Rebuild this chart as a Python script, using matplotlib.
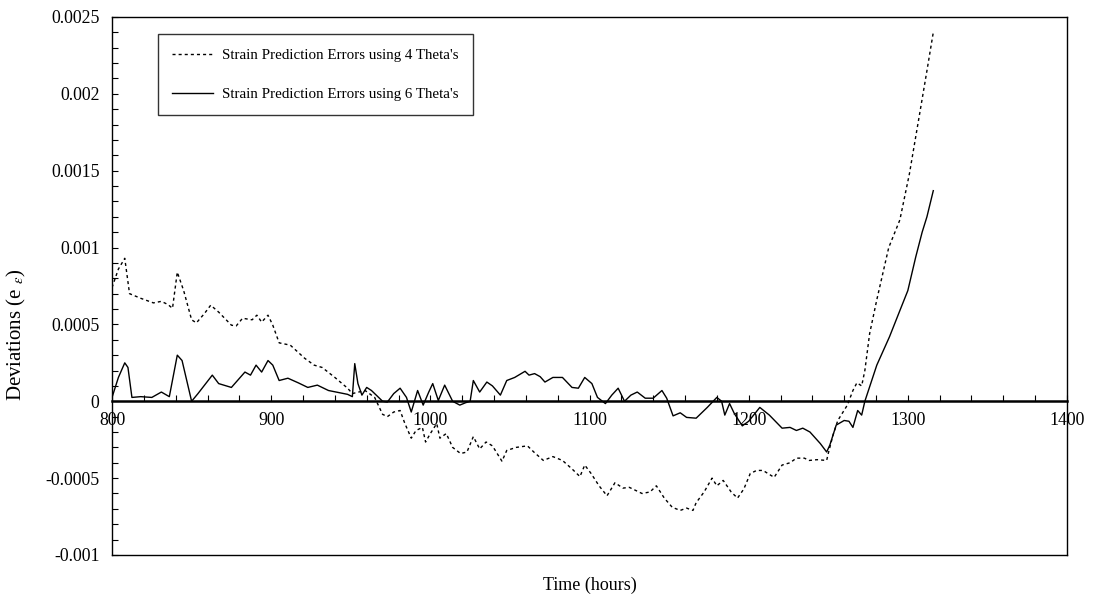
import matplotlib
matplotlib.use("Agg")
import matplotlib.pyplot as plt
from matplotlib.ticker import MultipleLocator, FuncFormatter

plt.rcParams['font.family'] = ['Liberation Serif', 'DejaVu Serif']
plt.rcParams['mathtext.fontset'] = 'stix'

# ---- data (time in hours, deviation in strain) ----
t4 = [800, 804, 808, 811, 818, 826, 831, 835, 838, 841, 845, 850, 853, 858, 862,
      867, 875, 878, 882, 888, 891, 894, 898, 901, 905, 912, 921, 927, 932, 940,
      948, 951, 959, 965, 970, 973, 977, 981, 984, 988, 991, 995, 997, 1000, 1004,
      1006, 1010, 1014, 1019, 1023, 1027, 1031, 1035, 1039, 1045, 1048, 1054, 1061,
      1065, 1071, 1077, 1083, 1089, 1094, 1097, 1101, 1106, 1111, 1116, 1121, 1125,
      1133, 1138, 1142, 1147, 1152, 1157, 1161, 1165, 1167, 1172, 1177, 1180, 1184,
      1189, 1193, 1197, 1201, 1205, 1209, 1216, 1221, 1226, 1230, 1235, 1238, 1243,
      1249, 1250, 1253, 1256, 1262, 1265.5, 1268, 1271, 1273, 1276, 1280.5, 1288,
      1295, 1301, 1307.5, 1312, 1316]
e4 = [7.4, 8.6, 9.3, 7.0, 6.7, 6.4, 6.5, 6.3, 6.05, 8.4, 7.2, 5.3, 5.1, 5.7, 6.25,
      5.8, 4.95, 4.9, 5.4, 5.3, 5.6, 5.15, 5.6, 4.95, 3.8, 3.65, 2.8, 2.35, 2.2, 1.55,
      0.85, 0.5, 0.7, 0.25, -0.85, -1.0, -0.7, -0.6, -1.45, -2.4, -1.9, -1.7, -2.65,
      -2.1, -1.45, -2.4, -2.1, -3.0, -3.4, -3.3, -2.3, -3.1, -2.65, -2.9, -3.9, -3.2,
      -3.0, -2.9, -3.3, -3.85, -3.6, -3.85, -4.4, -4.9, -4.15, -4.7, -5.5, -6.15, -5.3,
      -5.65, -5.6, -6.0, -5.9, -5.5, -6.3, -6.9, -7.1, -6.95, -7.1, -6.6, -5.9, -5.0,
      -5.5, -5.15, -5.9, -6.3, -5.7, -4.7, -4.5, -4.5, -4.95, -4.15, -4.0, -3.7, -3.7,
      -3.85, -3.8, -3.85, -3.4, -2.2, -1.25, -0.25, 0.7, 1.2, 1.0, 2.0, 4.4, 6.6, 10.0,
      11.8, 14.8, 18.75, 21.5, 24.0]

t6 = [800, 804, 808, 810, 812.5, 818, 825, 831, 836, 841, 844, 850, 854, 863, 867,
      875, 883.5, 887, 890.5, 894, 898, 901, 905, 910.5, 917, 923, 929, 936, 948, 951,
      952.5, 954.5, 957, 960, 963, 970, 973, 977, 981, 985, 988, 992, 995.5, 999,
      1001.5, 1005, 1009, 1014, 1018.5, 1022, 1025, 1027, 1031, 1035.5, 1039, 1044,
      1048, 1053, 1059.5, 1062, 1065.5, 1069, 1072, 1077, 1083, 1089, 1093, 1097,
      1101.5, 1105, 1110, 1114, 1118, 1122, 1126, 1130, 1135, 1140, 1145.5, 1148.5,
      1152.5, 1157, 1161, 1167, 1174, 1180, 1183, 1185, 1188, 1191, 1196, 1200, 1207,
      1213, 1221, 1226, 1230, 1234, 1238.5, 1245, 1249, 1251, 1255, 1260, 1263,
      1265.5, 1268.5, 1271, 1273, 1280.5, 1288.5, 1295, 1300, 1305, 1309, 1312, 1316]
e6 = [0.25, 1.55, 2.5, 2.2, 0.25, 0.3, 0.25, 0.6, 0.3, 3.0, 2.65, 0.0, 0.5, 1.7, 1.15,
      0.9, 1.9, 1.7, 2.35, 1.9, 2.65, 2.35, 1.35, 1.5, 1.2, 0.9, 1.05, 0.7, 0.45, 0.3,
      2.45, 1.15, 0.4, 0.9, 0.7, 0.0, -0.05, 0.5, 0.85, 0.25, -0.7, 0.7, -0.25, 0.6,
      1.15, 0.05, 1.05, 0.0, -0.25, -0.1, 0.0, 1.35, 0.6, 1.25, 1.0, 0.4,
      1.35, 1.55, 1.95, 1.7, 1.8, 1.6, 1.25, 1.55, 1.55, 0.9, 0.85, 1.55,
      1.15, 0.25, -0.15, 0.4, 0.85, 0.0, 0.4, 0.6, 0.2, 0.2, 0.7, 0.2,
      -0.95, -0.75, -1.05, -1.1, -0.4, 0.25, 0.0, -0.9, -0.15, -0.8, -1.6, -1.3, -0.4,
      -0.9, -1.75, -1.7, -1.9, -1.75, -2.0, -2.75, -3.3, -2.85, -1.55, -1.25, -1.3,
      -1.7, -0.6, -0.9, 0.0, 2.35, 4.2, 5.9, 7.2, 9.4, 11.0, 12.0, 13.7]

e4 = [v * 1e-4 for v in e4]
e6 = [v * 1e-4 for v in e6]

label4 = "Strain Prediction Errors using 4 Theta's"
label6 = "Strain Prediction Errors using 6 Theta's"
xlim = (800, 1400)
ylim = (-0.001, 0.0025)

fig = plt.figure(figsize=(10.93, 6.02), dpi=100)
ax = fig.add_axes([0.1025, 0.0781, 0.8737, 0.8937])

ax.plot(t4, e4, color='black', lw=1.0, dashes=(2.2, 2.2), label=label4)
ax.plot(t6, e6, color='black', lw=1.0, label=label6)

ax.set_xlim(*xlim)
ax.set_ylim(*ylim)

# x axis crosses at zero
ax.spines['bottom'].set_position(('data', 0))
ax.spines['bottom'].set_linewidth(1.8)
for s in ['left', 'right', 'top']:
    ax.spines[s].set_linewidth(1.0)
ax.plot([0, 1], [0, 0], transform=ax.transAxes, color='black', lw=1.0, clip_on=False)

ax.xaxis.set_major_locator(MultipleLocator(100))
ax.xaxis.set_minor_locator(MultipleLocator(20))
ax.yaxis.set_major_locator(MultipleLocator(0.0005))
ax.yaxis.set_minor_locator(MultipleLocator(0.0001))
ax.yaxis.set_major_formatter(FuncFormatter(lambda v, p: '0' if abs(v) < 1e-12 else ('%g' % v)))

ax.tick_params(axis='x', which='both', direction='in', length=4, width=0.8,
               labelsize=12.8, pad=8)
ax.tick_params(axis='y', which='both', direction='in', length=4, width=0.8,
               labelsize=12.8, pad=9)

ax.set_xlabel('Time (hours)', fontsize=13)
ax.xaxis.set_label_coords(0.5005, -0.041)
ax.set_ylabel(r'Deviations (e $_{\varepsilon}$)', fontsize=15)
ax.yaxis.set_label_coords(-0.088, 0.41)

leg = ax.legend(loc='upper left', bbox_to_anchor=(0.048, 0.968), frameon=True,
                fancybox=False, edgecolor='black', fontsize=10.8, handlelength=2.7,
                labelspacing=1.7, borderpad=0.95, handletextpad=0.65,
                borderaxespad=0)
leg.get_frame().set_linewidth(1.0)

fig.savefig('out.png', dpi=100)
